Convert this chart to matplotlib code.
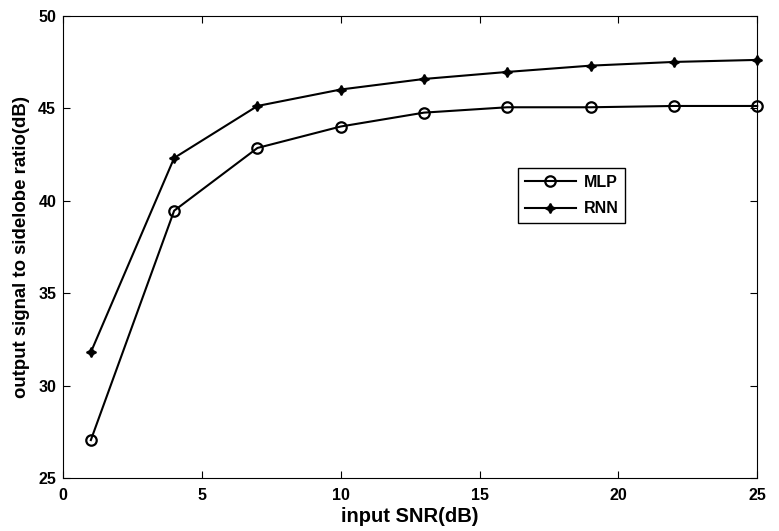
import matplotlib
matplotlib.use('Agg')
import matplotlib.pyplot as plt

snr = [1, 4, 7, 10, 13, 16, 19, 22, 25]
mlp = [27.05, 39.45, 42.84, 44.0, 44.75, 45.04, 45.04, 45.11, 45.11]
rnn = [31.8, 42.3, 45.11, 46.0, 46.57, 46.95, 47.29, 47.49, 47.6]

plt.rcParams['font.family'] = ['Liberation Sans', 'DejaVu Sans']
plt.rcParams['font.weight'] = 'bold'

fig = plt.figure(figsize=(7.79, 5.31), dpi=100)
ax = fig.add_axes([0.081, 0.0998, 0.891, 0.871])

ax.plot(snr, mlp, '-', color='black', linewidth=1.5, marker='o', clip_on=False,
        markersize=7.5, markerfacecolor='none', markeredgewidth=1.6, label='MLP')
ax.plot(snr, rnn, '-', color='black', linewidth=1.5, marker=(4, 1, 0), clip_on=False,
        markersize=7, markeredgewidth=1.2, label='RNN')

ax.set_xlim(0, 25)
ax.set_ylim(25, 50)
ax.set_xticks([0, 5, 10, 15, 20, 25])
ax.set_yticks([25, 30, 35, 40, 45, 50])
ax.tick_params(direction='in', top=True, right=True, labelsize=11.5, length=5)
ax.tick_params(axis='x', pad=7)
ax.tick_params(axis='y', pad=5)
for lbl in ax.get_xticklabels() + ax.get_yticklabels():
    lbl.set_fontweight('bold')

ax.set_xlabel('input SNR(dB)', fontsize=14.5, fontweight='bold', labelpad=3)
ax.set_ylabel('output signal to sidelobe ratio(dB)', fontsize=13.4, fontweight='bold', labelpad=6)

leg = ax.legend(loc='upper left', bbox_to_anchor=(0.656, 0.670), borderaxespad=0,
                fancybox=False, edgecolor='black', framealpha=1, fontsize=11.5,
                handlelength=3.2, handletextpad=0.5, borderpad=0.4, labelspacing=0.75)
leg.get_frame().set_linewidth(1.0)
for t in leg.get_texts():
    t.set_fontweight('bold')

plt.savefig('out.png', dpi=100)
